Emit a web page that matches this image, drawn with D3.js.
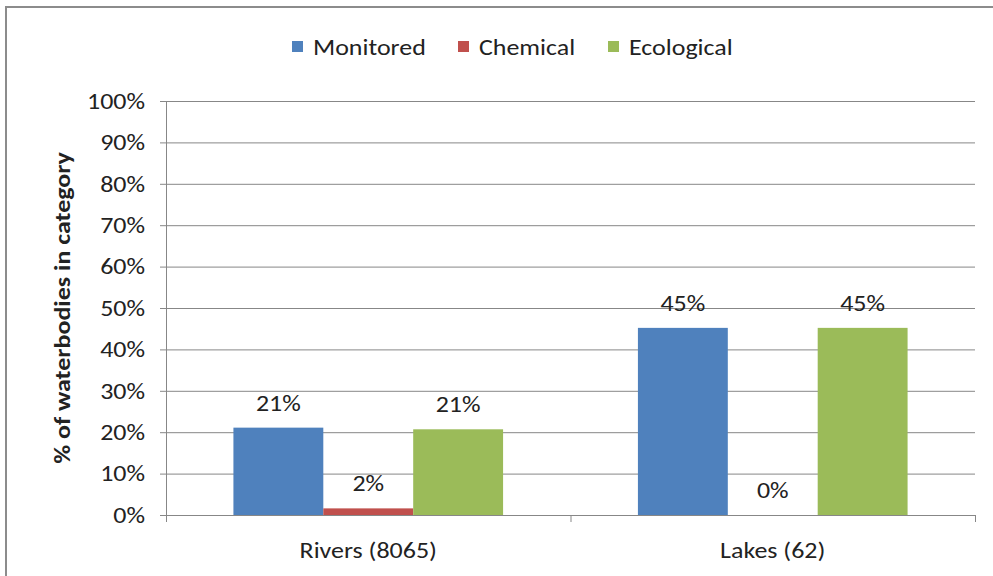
<!DOCTYPE html>
<html>
<head>
<meta charset="utf-8">
<script src="https://cdn.jsdelivr.net/npm/d3@7/dist/d3.min.js"></script>
<style>
  body { margin: 0; background: #fff; }
  text { font-family: Carlito, "Liberation Sans Narrow", "Noto Sans", sans-serif; fill: #222; font-size: 22px; }
</style>
</head>
<body>
<svg width="993" height="576"></svg>
<script>
// data
var categories = ["Rivers (8065)", "Lakes (62)"];
var series = ["Monitored", "Chemical", "Ecological"];
var monitored = [21.1, 45.2];
var chemical = [1.6, 0];
var ecological = [20.7, 45.2];
var labels = [["21%", "2%", "21%"], ["45%", "0%", "45%"]];
var yTicks = [0, 10, 20, 30, 40, 50, 60, 70, 80, 90, 100];
var colors = ["#4f81bd", "#c0504d", "#9bbb59"];

var svg = d3.select("svg");
var margin = {left: 166, right: 975, top: 101, bottom: 515};
var sx = 1.18; // text in the original is drawn a bit wide

function place(x, y) { return "translate(" + x + "," + y + ") scale(" + sx + ",1)"; }

// outer frame
svg.append("path")
  .attr("d", "M6,576 V7 H993")
  .attr("fill", "none")
  .attr("stroke", "#8c8c8c")
  .attr("stroke-width", 2);

var x0 = d3.scaleBand().domain(categories).range([margin.left, margin.right]);
var x1 = d3.scaleBand().domain(series).range([0, x0.bandwidth()]).paddingInner(0).paddingOuter(0.75);
var y = d3.scaleLinear().domain([0, 100]).range([margin.bottom, margin.top]);

// gridlines
svg.append("g")
  .selectAll("line")
  .data(yTicks)
  .enter().append("line")
    .attr("x1", margin.left - 6)
    .attr("x2", margin.right)
    .attr("y1", function(d) { return y(d) + 0.5; })
    .attr("y2", function(d) { return y(d) + 0.5; })
    .attr("stroke", "#878787")
    .attr("stroke-width", 1);

// y axis line
svg.append("line")
  .attr("x1", margin.left + 0.5).attr("x2", margin.left + 0.5)
  .attr("y1", margin.top).attr("y2", margin.bottom)
  .attr("stroke", "#878787");

// x ticks
var xTickPos = [margin.left, margin.left + x0.bandwidth(), margin.right];
svg.append("g")
  .selectAll("line")
  .data(xTickPos)
  .enter().append("line")
    .attr("x1", function(d) { return d + 0.5; })
    .attr("x2", function(d) { return d + 0.5; })
    .attr("y1", margin.bottom)
    .attr("y2", margin.bottom + 7)
    .attr("stroke", "#878787");

// y tick labels
svg.append("g")
  .selectAll("text")
  .data(yTicks)
  .enter().append("text")
    .attr("transform", function(d) { return place(145, y(d)); })
    .attr("dy", "0.35em")
    .attr("text-anchor", "end")
    .text(function(d) { return d + "%"; });

// y axis title
svg.append("text")
  .attr("transform", "translate(70,308) rotate(-90) scale(" + sx + ",1)")
  .attr("text-anchor", "middle")
  .style("font-weight", "bold")
  .text("% of waterbodies in category");

// bars
var rows = categories.map(function(c, i) {
  return {cat: c, vals: [monitored[i], chemical[i], ecological[i]], labs: labels[i]};
});

var groups = svg.append("g")
  .selectAll("g")
  .data(rows)
  .enter().append("g")
    .attr("transform", function(d) { return "translate(" + x0(d.cat) + ",0)"; });

groups.selectAll("rect")
  .data(function(d) { return d.vals.map(function(v, j) { return {s: series[j], v: v, c: colors[j]}; }); })
  .enter().append("rect")
    .attr("x", function(d) { return x1(d.s); })
    .attr("width", x1.bandwidth())
    .attr("y", function(d) { return y(d.v); })
    .attr("height", function(d) { return y(0) - y(d.v); })
    .attr("fill", function(d) { return d.c; });

groups.selectAll("text")
  .data(function(d) { return d.vals.map(function(v, j) { return {s: series[j], v: v, l: d.labs[j]}; }); })
  .enter().append("text")
    .attr("transform", function(d) { return place(x1(d.s) + x1.bandwidth() / 2, y(d.v) - 17); })
    .attr("text-anchor", "middle")
    .text(function(d) { return d.l; });

// category labels
svg.append("g")
  .selectAll("text")
  .data(categories)
  .enter().append("text")
    .attr("transform", function(d) { return place(x0(d) + x0.bandwidth() / 2, 558); })
    .attr("text-anchor", "middle")
    .text(function(d) { return d; });

// legend
var legendX = [292, 458, 608];
var legend = svg.append("g")
  .selectAll("g")
  .data(series)
  .enter().append("g")
    .attr("transform", function(d, i) { return "translate(" + legendX[i] + ",41)"; });
legend.append("rect")
  .attr("width", 11).attr("height", 11)
  .attr("fill", function(d, i) { return colors[i]; });
legend.append("text")
  .attr("transform", place(21, 6))
  .attr("dy", "0.35em")
  .text(function(d) { return d; });
</script>
</body>
</html>
